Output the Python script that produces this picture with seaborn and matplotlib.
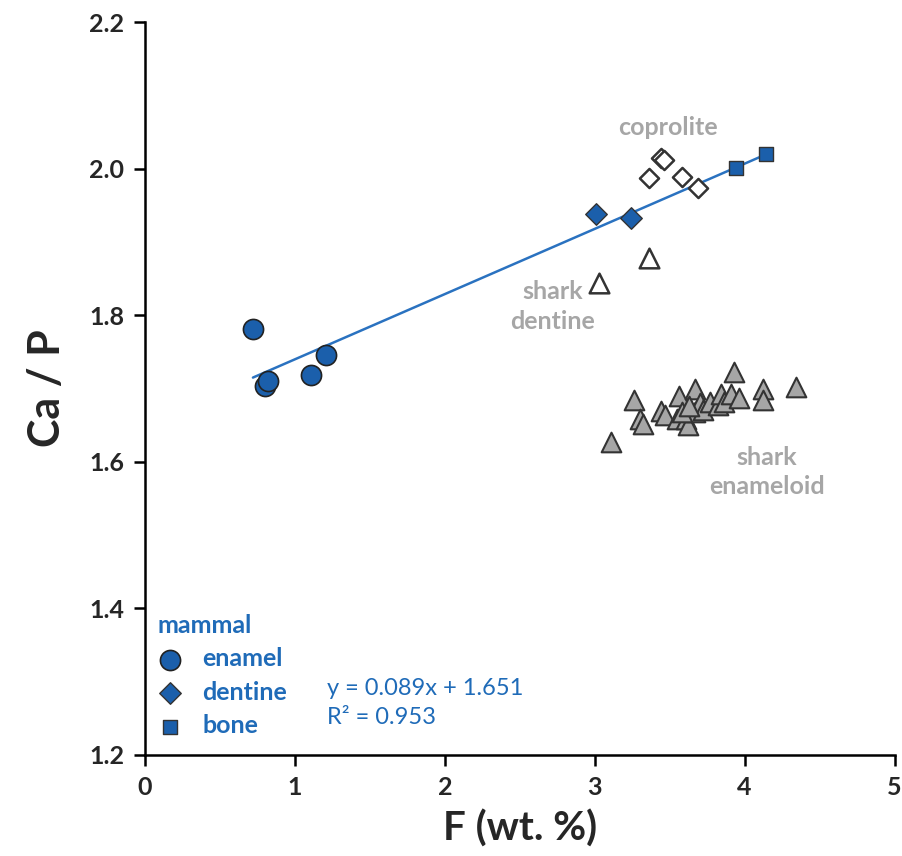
import matplotlib
matplotlib.use("Agg")
import matplotlib.pyplot as plt
import seaborn as sns
import pandas as pd

# mammal samples
enamel_F = [0.72, 0.80, 0.82, 1.11, 1.21]
enamel_CaP = [1.781, 1.703, 1.711, 1.718, 1.746]
dentine_F = [3.01, 3.24]
dentine_CaP = [1.938, 1.933]
bone_F = [3.94, 4.14]
bone_CaP = [2.001, 2.020]

# coprolite and shark samples
coprolite_F = [3.36, 3.44, 3.46, 3.58, 3.69]
coprolite_CaP = [1.988, 2.015, 2.012, 1.989, 1.974]
shark_dentine_F = [3.03, 3.36]
shark_dentine_CaP = [1.844, 1.878]
enameloid_F = [3.11, 3.26, 3.30, 3.32, 3.44, 3.47, 3.56, 3.55, 3.61, 3.62, 3.67, 3.67,
               3.70, 3.72, 3.77, 3.82, 3.84, 3.86, 3.91, 3.93, 3.96, 4.12, 4.12, 4.34, 3.58, 3.63]
enameloid_CaP = [1.627, 1.685, 1.659, 1.652, 1.670, 1.664, 1.690, 1.659, 1.659, 1.650, 1.700, 1.668,
                 1.680, 1.671, 1.682, 1.677, 1.693, 1.682, 1.693, 1.723, 1.687, 1.700, 1.684, 1.702, 1.668, 1.676]

slope, intercept = 0.089, 1.651
fit_x = [0.72, 4.14]

blue = "#1b5fab"
text_blue = "#1f6bb8"
grey = "#a6a6a6"

sns.set_style("ticks")
plt.rcParams["font.family"] = ["Lato", "DejaVu Sans"]

fig = plt.figure(figsize=(9.03, 8.56), dpi=100)
ax = fig.add_axes([0.1606, 0.118, 0.830, 0.856])

fit_y = [slope * x + intercept for x in fit_x]
sns.lineplot(x=fit_x, y=fit_y, ax=ax, color="#2a72c0", linewidth=1.8, zorder=1)

sns.scatterplot(x=enameloid_F, y=enameloid_CaP, ax=ax, marker="^", s=200,
                color=grey, edgecolor="#333333", linewidth=1.5, zorder=2)
sns.scatterplot(x=shark_dentine_F, y=shark_dentine_CaP, ax=ax, marker="^", s=200,
                color="white", edgecolor="#333333", linewidth=1.8, zorder=2)
sns.scatterplot(x=coprolite_F, y=coprolite_CaP, ax=ax, marker="D", s=95,
                color="white", edgecolor="#333333", linewidth=1.8, zorder=2)
sns.scatterplot(x=enamel_F, y=enamel_CaP, ax=ax, marker="o", s=210, color=blue,
                edgecolor="#222222", linewidth=1.2, zorder=3, label="enamel")
sns.scatterplot(x=dentine_F, y=dentine_CaP, ax=ax, marker="D", s=120, color=blue,
                edgecolor="#333333", linewidth=1.0, zorder=3, label="dentine")
sns.scatterplot(x=bone_F, y=bone_CaP, ax=ax, marker="s", s=110, color=blue,
                edgecolor="#333333", linewidth=1.0, zorder=3, label="bone")

ax.set_xlim(0, 5)
ax.set_ylim(1.2, 2.2)
ax.set_xticks([0, 1, 2, 3, 4, 5])
ax.set_yticks([1.2, 1.4, 1.6, 1.8, 2.0, 2.2])
ax.set_yticklabels(["1.2", "1.4", "1.6", "1.8", "2.0", "2.2"])
sns.despine(ax=ax)
for sp in ["left", "bottom"]:
    ax.spines[sp].set_linewidth(1.8)
    ax.spines[sp].set_color("black")
ax.tick_params(direction="out", length=8, width=1.8, labelsize=18, pad=7, color="black")
for lab in ax.get_xticklabels() + ax.get_yticklabels():
    lab.set_fontweight("bold")

ax.set_xlabel("F (wt. %)", fontsize=29, fontweight="bold", labelpad=8)
ax.set_ylabel("Ca / P", fontsize=31, fontweight="bold", labelpad=16)

leg = ax.legend(loc="lower left", bbox_to_anchor=(-0.0067, 0.0005), frameon=False,
                title="mammal", fontsize=18, title_fontsize=18, handlelength=1.0,
                handletextpad=0.8, labelspacing=0.42, borderaxespad=0.3)
leg._legend_box.align = "left"
leg.get_title().set_color(text_blue)
leg.get_title().set_fontweight("bold")
for t in leg.get_texts():
    t.set_color(text_blue)
    t.set_fontweight("bold")

ax.text(0.2427, 0.0914, "y = 0.089x + 1.651", transform=ax.transAxes,
        fontsize=17, color=text_blue, va="center")
ax.text(0.2427, 0.0518, "R² = 0.953", transform=ax.transAxes,
        fontsize=17, color=text_blue, va="center")

ax.text(3.49, 2.056, "coprolite", color=grey, fontsize=18, fontweight="bold", ha="center", va="center")
ax.text(2.72, 1.8125, "shark\ndentine", color=grey, fontsize=18, fontweight="bold",
        ha="center", va="center", linespacing=1.35)
ax.text(4.15, 1.586, "shark\nenameloid", color=grey, fontsize=18, fontweight="bold",
        ha="center", va="center", linespacing=1.35)

fig.savefig("out.png", dpi=100)
